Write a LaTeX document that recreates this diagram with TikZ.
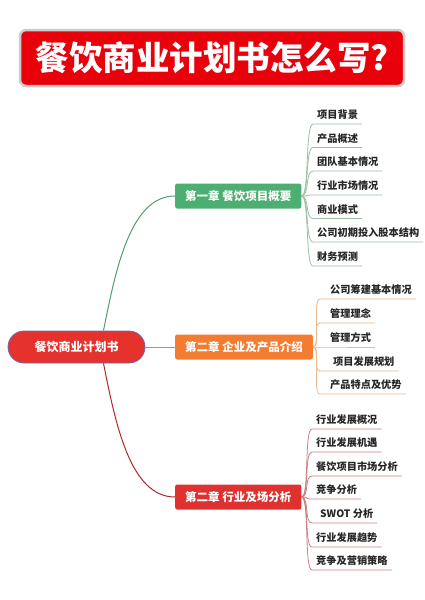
\documentclass[tikz,border=0pt]{standalone}
\usepackage{fontspec}
\newfontfamily\cjk{Noto Sans CJK SC}
\usepackage{tikz}

\definecolor{TitleRed}{HTML}{E8000B}
\definecolor{RootRed}{HTML}{E5322D}
\definecolor{RootLine}{HTML}{7466B0}
\definecolor{ChapGreen}{HTML}{4DAE72}
\definecolor{ChapOrange}{HTML}{F47C30}
\definecolor{ChapRed}{HTML}{E03131}
\definecolor{LineGreen}{HTML}{4F9E6B}
\definecolor{LineRed}{HTML}{B2272B}
\definecolor{LeafGreen}{HTML}{9DBFA5}
\definecolor{LeafOrange}{HTML}{E9B98F}
\definecolor{LeafRed}{HTML}{C98080}

\begin{document}
\begin{tikzpicture}[x=1pt,y=-1pt,
  chap/.style={rectangle,anchor=west,rounded corners=2pt,text=white,minimum height=25pt,inner xsep=10pt,font=\cjk\bfseries\fontsize{11.5}{13}\selectfont},
  leaf/.style={anchor=south west,inner xsep=4pt,inner ysep=4pt,text height=8pt,text depth=1pt,text=black!85,font=\cjk\bfseries\fontsize{10.2}{12}\selectfont},
  leafB/.style={leaf,execute at begin node={\hspace*{6pt}}}]
\useasboundingbox (0,0) rectangle (424,600);

% title
\node at (212,58) [rectangle,rounded corners=6pt,fill=TitleRed,draw=black!20,line width=2.5pt,minimum width=384pt,minimum height=56pt,text=white,font=\cjk\bfseries\fontsize{33.5}{38}\selectfont] (Title) {餐饮商业计划书怎么写?};

% root and chapters
\node at (76.5,347) [rectangle,rounded corners=16pt,fill=RootRed,draw=RootLine,line width=0.8pt,minimum width=137pt,minimum height=32pt,text=white,font=\cjk\bfseries\fontsize{12}{14}\selectfont] (Root) {餐饮商业计划书};
\node at (175,196) [chap,fill=ChapGreen] (Chap1) {第一章 餐饮项目概要};
\node at (175,347) [chap,fill=ChapOrange] (Chap2) {第二章 企业及产品介绍};
\node at (175,497) [chap,fill=ChapRed] (Chap3) {第二章 行业及场分析};
\draw[LineGreen,line width=1pt] ([xshift=27pt]Root.north) .. controls +(12,-60) and +(-45,0) .. (Chap1.west);
\draw[ChapOrange,line width=1pt] (Root.east) -- (Chap2.west);
\draw[LineRed,line width=1pt] ([xshift=27pt]Root.south) .. controls +(12,60) and +(-45,0) .. (Chap3.west);

% chapter 1
\node at (313,124) [leaf] (Item11) {项目背景};
\node at (313,147.5) [leaf] (Item12) {产品概述};
\node at (313,171) [leaf] (Item13) {团队基本情况};
\node at (313,195) [leaf] (Item14) {行业市场情况};
\node at (313,218.5) [leaf] (Item15) {商业模式};
\node at (313,242) [leaf] (Item16) {公司初期投入股本结构};
\node at (313,266) [leaf] (Item17) {财务预测};
\draw[LeafGreen,line width=0.8pt] (Chap1.east) .. controls +(8,0) and +(-8,0) .. (Item11.south west) -- (Item11.south east);
\draw[LeafGreen,line width=0.8pt] (Chap1.east) .. controls +(8,0) and +(-8,0) .. (Item12.south west) -- (Item12.south east);
\draw[LeafGreen,line width=0.8pt] (Chap1.east) .. controls +(8,0) and +(-8,0) .. (Item13.south west) -- (Item13.south east);
\draw[LeafGreen,line width=0.8pt] (Chap1.east) .. controls +(8,0) and +(-8,0) .. (Item14.south west) -- (Item14.south east);
\draw[LeafGreen,line width=0.8pt] (Chap1.east) .. controls +(8,0) and +(-8,0) .. (Item15.south west) -- (Item15.south east);
\draw[LeafGreen,line width=0.8pt] (Chap1.east) .. controls +(8,0) and +(-8,0) .. (Item16.south west) -- (Item16.south east);
\draw[LeafGreen,line width=0.8pt] (Chap1.east) .. controls +(8,0) and +(-8,0) .. (Item17.south west) -- (Item17.south east);

% chapter 2
\node at (320,299) [leafB] (Item21) {公司筹建基本情况};
\node at (320,323) [leafB] (Item22) {管理理念};
\node at (320,347) [leafB] (Item23) {管理方式};
\node at (320,371) [leafB] (Item24) {\hspace*{3pt}项目发展规划};
\node at (320,394) [leafB] (Item25) {产品特点及优势};
\draw[LeafOrange,line width=0.8pt] (Chap2.east) .. controls +(8,0) and +(-8,0) .. (Item21.south west) -- (Item21.south east);
\draw[LeafOrange,line width=0.8pt] (Chap2.east) .. controls +(8,0) and +(-8,0) .. (Item22.south west) -- (Item22.south east);
\draw[LeafOrange,line width=0.8pt] (Chap2.east) .. controls +(8,0) and +(-8,0) .. (Item23.south west) -- (Item23.south east);
\draw[LeafOrange,line width=0.8pt] (Chap2.east) .. controls +(8,0) and +(-8,0) .. (Item24.south west) -- (Item24.south east);
\draw[LeafOrange,line width=0.8pt] (Chap2.east) .. controls +(8,0) and +(-8,0) .. (Item25.south west) -- (Item25.south east);

% chapter 3
\node at (312,429) [leaf] (Item31) {行业发展概况};
\node at (312,452) [leaf] (Item32) {行业发展机遇};
\node at (312,476) [leaf] (Item33) {餐饮项目市场分析};
\node at (312,499) [leaf] (Item34) {竞争分析};
\node at (312,523) [leaf] (Item35) {\hspace*{4pt}SWOT 分析};
\node at (312,547) [leaf] (Item36) {行业发展趋势};
\node at (312,570) [leaf] (Item37) {竞争及营销策略};
\draw[LeafRed,line width=0.8pt] (Chap3.east) .. controls +(8,0) and +(-8,0) .. (Item31.south west) -- (Item31.south east);
\draw[LeafRed,line width=0.8pt] (Chap3.east) .. controls +(8,0) and +(-8,0) .. (Item32.south west) -- (Item32.south east);
\draw[LeafRed,line width=0.8pt] (Chap3.east) .. controls +(8,0) and +(-8,0) .. (Item33.south west) -- (Item33.south east);
\draw[LeafRed,line width=0.8pt] (Chap3.east) .. controls +(8,0) and +(-8,0) .. (Item34.south west) -- (Item34.south east);
\draw[LeafRed,line width=0.8pt] (Chap3.east) .. controls +(8,0) and +(-8,0) .. (Item35.south west) -- (Item35.south east);
\draw[LeafRed,line width=0.8pt] (Chap3.east) .. controls +(8,0) and +(-8,0) .. (Item36.south west) -- (Item36.south east);
\draw[LeafRed,line width=0.8pt] (Chap3.east) .. controls +(8,0) and +(-8,0) .. (Item37.south west) -- (Item37.south east);

\end{tikzpicture}
\end{document}
